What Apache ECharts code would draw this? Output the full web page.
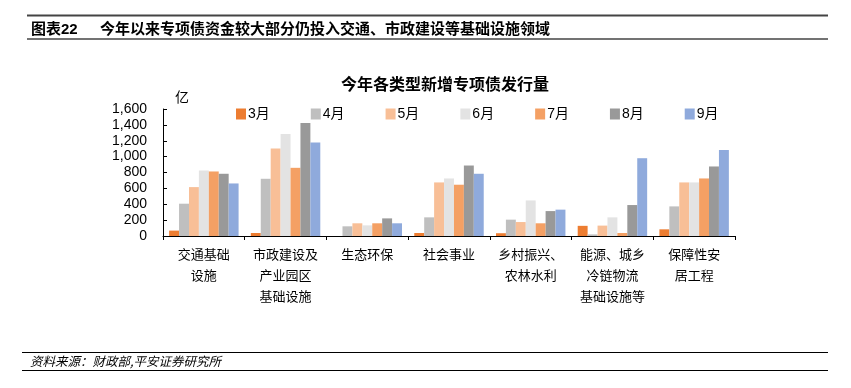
<!DOCTYPE html>
<html>
<head>
<meta charset="utf-8">
<script src="https://cdn.jsdelivr.net/npm/echarts@6/dist/echarts.min.js"></script>
<style>html,body{margin:0;padding:0;background:#fff}#c{width:851px;height:388px}</style>
</head>
<body>
<div id="c"></div>
<script>
const categories = ['交通基础\n设施', '市政建设及\n产业园区\n基础设施', '生态环保', '社会事业', '乡村振兴、\n农林水利', '能源、城乡\n冷链物流\n基础设施等', '保障性安\n居工程'];
const months = ['3月', '4月', '5月', '6月', '7月', '8月', '9月'];
const m3 = [68, 38, 0, 38, 35, 128, 84];
const m4 = [407, 721, 122, 235, 206, 20, 373];
const m5 = [616, 1102, 160, 675, 176, 131, 675];
const m6 = [825, 1286, 134, 725, 448, 235, 675];
const m7 = [813, 859, 160, 646, 160, 38, 725];
const m8 = [784, 1425, 222, 888, 314, 390, 876];
const m9 = [662, 1177, 160, 784, 332, 980, 1085];
const yTicks = [0, 200, 400, 600, 800, 1000, 1200, 1400, 1600];
const colors = ['#ED7D31', '#BFBFBF', '#F8BF97', '#E3E3E3', '#F4A064', '#999999', '#8FAADC'];
const seriesData = [m3, m4, m5, m6, m7, m8, m9];

const font = "'Liberation Sans', 'Noto Sans CJK SC', sans-serif";
const chart = echarts.init(document.getElementById('c'));
chart.setOption({
  animation: false,
  color: colors,
  textStyle: { fontFamily: font },
  title: {
    text: '今年各类型新增专项债发行量',
    left: 440, top: 73, textAlign: 'center',
    textStyle: { fontSize: 16, fontWeight: 'bold', color: '#000', fontFamily: font }
  },
  legend: {
    data: months, left: 231, top: 102,
    itemWidth: 10, itemHeight: 11, itemGap: 41, icon: 'rect',
    textStyle: { fontSize: 14, color: '#000', padding: [0, 0, 0, -3], fontFamily: font }
  },
  grid: { left: 163, right: 116, top: 109, bottom: 152 },
  xAxis: {
    type: 'category', data: categories,
    axisLine: { lineStyle: { color: '#000', width: 1 } },
    axisTick: { show: true, inside: false, length: 4, lineStyle: { color: '#000' } },
    axisLabel: { fontSize: 13, color: '#000', lineHeight: 21, margin: 9, interval: 0, fontFamily: font }
  },
  yAxis: {
    type: 'value', min: 0, max: 1600, interval: 200,
    name: '亿', nameLocation: 'end', nameGap: 4,
    nameTextStyle: { fontSize: 14, color: '#000', align: 'left', padding: [0, 0, 0, 12] },
    axisLine: { show: true, lineStyle: { color: '#000' } },
    axisTick: { show: true, inside: true, length: 4, lineStyle: { color: '#000' } },
    splitLine: { show: false },
    axisLabel: {
      fontSize: 14, color: '#000', margin: 16, fontFamily: font,
      formatter: v => v.toLocaleString('en-US')
    }
  },
  series: seriesData.map((d, i) => ({
    name: months[i], type: 'bar', data: d,
    barGap: '0%', barCategoryGap: '15%',
    itemStyle: { color: colors[i] }
  })),
  graphic: [
    { type: 'line', shape: { x1: 27, y1: 15.5, x2: 828, y2: 15.5 }, style: { stroke: '#444', lineWidth: 2 } },
    { type: 'text', left: 31, top: 22, style: { text: '图表22', font: "bold 15px 'Liberation Sans','Noto Sans CJK SC'", fill: '#000' } },
    { type: 'text', left: 100, top: 21, style: { text: '今年以来专项债资金较大部分仍投入交通、市政建设等基础设施领域', font: "bold 15px 'Noto Sans CJK SC'", fill: '#000' } },
    { type: 'line', shape: { x1: 27, y1: 39, x2: 828, y2: 39 }, style: { stroke: '#444', lineWidth: 1.5 } },
    { type: 'line', shape: { x1: 22, y1: 352.5, x2: 828, y2: 352.5 }, style: { stroke: '#000', lineWidth: 1 } },
    { type: 'text', left: 30, top: 355, style: { text: '资料来源：财政部,平安证券研究所', font: "italic 12.5px 'Noto Sans CJK SC'", fill: '#000' } },
    { type: 'line', shape: { x1: 22, y1: 370.5, x2: 828, y2: 370.5 }, style: { stroke: '#000', lineWidth: 1 } }
  ]
});
</script>
</body>
</html>
